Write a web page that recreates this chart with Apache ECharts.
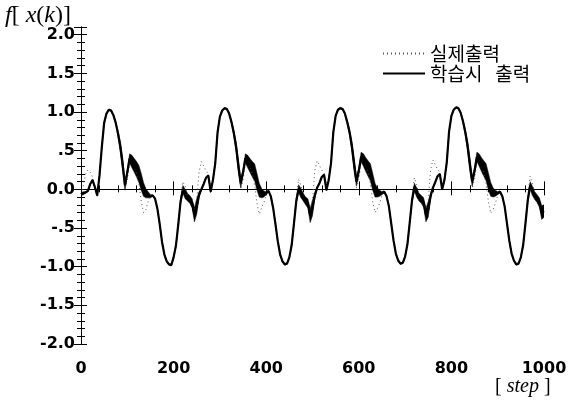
<!DOCTYPE html>
<html><head><meta charset="utf-8">
<script src="https://cdn.jsdelivr.net/npm/echarts@6/dist/echarts.min.js"></script>
<style>html,body{margin:0;padding:0;background:#fff}#c{width:578px;height:402px}</style>
</head><body><div id="c"></div>
<script>
// x axis: step index, every 5 steps from 0 to 1000
const xTickLabels = ['0','200','400','600','800','1000'];
const yTickValues = [-2.0,-1.5,-1.0,-0.5,0.0,0.5,1.0,1.5,2.0];
const seriesNames = ['실제출력','학습시 출력'];

// learned output (학습시 출력), centre of the trace, per 5 steps
const learned1 = [-0.06,-0.05,-0.04,-0.02,0.07,0.12,0.03,-0.08,0.18,0.55,0.86,0.98,1.03,1.02,0.96,0.86,0.72,0.55,0.32,0.05,0.22,0.40,0.36,0.31,0.26,0.20,0.10,0.00,-0.05,-0.07,-0.09,-0.08,-0.12,-0.25,-0.45,-0.68,-0.84,-0.93,-0.97,-0.98,-0.88,-0.73,-0.46,-0.16,0.00,-0.06,-0.10,-0.13,-0.18,-0.33];
const learned2 = [-0.22,-0.07,0.00,0.07,0.15,0.18,-0.03,0.12,0.34,0.74,0.94,1.02,1.05,1.04,0.98,0.87,0.73,0.55,0.30,0.08,0.22,0.40,0.36,0.31,0.26,0.22,0.10,-0.01,-0.05,-0.06,-0.05,-0.02,-0.09,-0.24,-0.45,-0.67,-0.84,-0.93,-0.97,-0.96,-0.88,-0.72,-0.44,-0.15,0.01,-0.05,-0.10,-0.15,-0.18,-0.34];
const learned3 = [-0.24,-0.08,0.02,0.08,0.16,0.19,-0.01,0.12,0.34,0.74,0.95,1.03,1.05,1.04,0.98,0.87,0.74,0.56,0.32,0.10,0.24,0.42,0.38,0.32,0.27,0.22,0.10,-0.01,-0.04,-0.05,-0.05,-0.03,-0.09,-0.22,-0.44,-0.66,-0.83,-0.92,-0.96,-0.95,-0.87,-0.71,-0.43,-0.14,0.03,-0.04,-0.10,-0.13,-0.17,-0.33];
const learned4 = [-0.26,-0.09,0.02,0.09,0.17,0.20,0.00,0.12,0.35,0.75,0.95,1.03,1.06,1.05,0.99,0.88,0.74,0.56,0.32,0.10,0.24,0.42,0.38,0.32,0.27,0.22,0.10,0.00,-0.04,-0.05,-0.05,-0.03,-0.09,-0.22,-0.44,-0.66,-0.83,-0.92,-0.97,-0.96,-0.88,-0.72,-0.44,-0.14,0.05,-0.02,-0.08,-0.12,-0.17,-0.30,-0.28];

// half-width of the oscillation band of the learned output
const spread1 = [0.02,0.02,0.01,0.01,0.01,0.01,0.01,0.01,0.01,0.01,0.01,0.01,0.01,0.01,0.01,0.01,0.04,0.07,0.09,0.06,0.04,0.06,0.08,0.09,0.10,0.11,0.11,0.09,0.06,0.04,0.02,0.01,0.01,0.01,0.01,0.01,0.01,0.01,0.01,0.01,0.01,0.01,0.01,0.03,0.05,0.06,0.05,0.05,0.06,0.09];
const spread2 = [0.10,0.04,0.01,0.01,0.01,0.01,0.01,0.01,0.01,0.01,0.01,0.01,0.01,0.01,0.01,0.02,0.04,0.07,0.09,0.06,0.04,0.06,0.08,0.09,0.10,0.11,0.11,0.09,0.06,0.04,0.02,0.01,0.01,0.01,0.01,0.01,0.01,0.01,0.01,0.01,0.01,0.01,0.01,0.03,0.05,0.06,0.05,0.05,0.06,0.09];
const spread3 = [0.10,0.04,0.01,0.01,0.01,0.01,0.01,0.01,0.01,0.01,0.01,0.01,0.01,0.01,0.01,0.02,0.04,0.07,0.09,0.06,0.04,0.06,0.08,0.09,0.10,0.11,0.11,0.09,0.06,0.04,0.02,0.01,0.01,0.01,0.01,0.01,0.01,0.01,0.01,0.01,0.01,0.01,0.01,0.03,0.05,0.06,0.05,0.05,0.06,0.09];
const spread4 = [0.10,0.04,0.01,0.01,0.01,0.01,0.01,0.01,0.01,0.01,0.01,0.01,0.01,0.01,0.01,0.02,0.04,0.07,0.09,0.06,0.04,0.06,0.08,0.09,0.10,0.11,0.11,0.09,0.06,0.04,0.02,0.01,0.01,0.01,0.01,0.01,0.01,0.01,0.01,0.01,0.01,0.01,0.01,0.03,0.05,0.06,0.05,0.05,0.06,0.09,0.08];

// actual output (실제출력), dotted, per 5 steps
const actual1 = [-0.06,0.05,0.20,0.25,0.22,0.16,0.04,-0.05,0.18,0.55,0.86,0.98,1.03,1.02,0.97,0.87,0.73,0.53,0.30,0.00,0.12,0.35,0.36,0.30,0.20,0.08,-0.15,-0.30,-0.26,-0.16,-0.06,-0.06,-0.12,-0.25,-0.45,-0.68,-0.84,-0.93,-0.97,-0.98,-0.88,-0.73,-0.46,-0.12,0.10,0.04,-0.08,-0.13,-0.18,-0.25];
const actual2 = [-0.12,0.22,0.36,0.30,0.24,0.20,0.05,0.14,0.34,0.74,0.94,1.02,1.05,1.04,0.98,0.88,0.74,0.53,0.28,0.00,0.12,0.34,0.37,0.30,0.20,0.06,-0.18,-0.32,-0.24,-0.17,-0.07,-0.02,-0.09,-0.24,-0.45,-0.67,-0.84,-0.93,-0.97,-0.96,-0.88,-0.72,-0.44,-0.10,0.13,0.05,-0.08,-0.15,-0.18,-0.26];
const actual3 = [-0.14,0.24,0.37,0.31,0.25,0.21,0.07,0.14,0.35,0.74,0.95,1.03,1.05,1.04,0.99,0.88,0.75,0.54,0.30,0.02,0.13,0.35,0.38,0.31,0.21,0.07,-0.16,-0.30,-0.25,-0.18,-0.08,-0.03,-0.09,-0.22,-0.44,-0.66,-0.83,-0.92,-0.96,-0.95,-0.87,-0.71,-0.43,-0.10,0.15,0.06,-0.08,-0.13,-0.17,-0.25];
const actual4 = [-0.14,0.25,0.38,0.32,0.26,0.22,0.08,0.15,0.36,0.75,0.95,1.03,1.06,1.05,0.99,0.89,0.75,0.54,0.30,0.02,0.13,0.35,0.38,0.31,0.21,0.07,-0.16,-0.31,-0.26,-0.18,-0.08,-0.03,-0.09,-0.22,-0.44,-0.66,-0.83,-0.92,-0.97,-0.96,-0.88,-0.72,-0.44,-0.08,0.17,0.08,-0.06,-0.12,-0.17,-0.22,-0.20];

const learned = [...learned1, ...learned2, ...learned3, ...learned4];
const spread = [...spread1, ...spread2, ...spread3, ...spread4];
const actual = [...actual1, ...actual2, ...actual3, ...actual4];
const steps = learned.map((_, i) => i * 5);

const toPairs = arr => arr.map((v, i) => [steps[i], v]);

const labelFont = {fontFamily: 'DejaVu Sans, sans-serif', fontWeight: 'bold', fontSize: 16, color: '#000'};
const axisLine = {show: true, lineStyle: {color: '#000', width: 1}};

const chart = echarts.init(document.getElementById('c'), null, {renderer: 'canvas'});
chart.setOption({
  animation: false,
  backgroundColor: '#fff',
  grid: {left: 81, right: 34, top: 27, bottom: 58, containLabel: false},
  legend: {
    data: seriesNames, orient: 'vertical', left: 377, top: 39,
    itemWidth: 42, itemHeight: 12, itemGap: 1,
    itemStyle: {opacity: 0},
    formatter: name => name.replace(' ', '   '),
    textStyle: {fontFamily: 'Noto Sans CJK KR', fontSize: 19, color: '#000', lineHeight: 19}
  },
  xAxis: [
    {type: 'value', position: 'bottom', min: 0, max: 1000, interval: 200,
     axisLine, splitLine: {show: false},
     axisTick: {inside: true, length: 8, lineStyle: {color: '#000'}},
     minorTick: {show: true, splitNumber: 5, length: 4, lineStyle: {color: '#000'}},
     axisLabel: Object.assign({margin: 17, formatter: v => xTickLabels[Math.round(v / 200)]}, labelFont)},
    {type: 'value', position: 'top', min: 0, max: 1000, interval: 200,
     axisLine, splitLine: {show: false},
     axisTick: {inside: true, length: 6, lineStyle: {color: '#000'}},
     minorTick: {show: true, splitNumber: 5, length: 3, lineStyle: {color: '#000'}},
     axisLabel: {show: false}}
  ],
  yAxis: [
    {type: 'value', position: 'left', min: -2, max: 2.1, interval: 0.5,
     axisLine, splitLine: {show: false},
     axisTick: {inside: false, length: 5, lineStyle: {color: '#000'}},
     minorTick: {show: false},
     axisLabel: Object.assign({margin: 6, formatter: v => {
        if (v > 2.05) return '';
        const t = yTickValues.find(y => Math.abs(y - v) < 1e-6);
        if (t === undefined) return '';
        return t.toFixed(1).replace('0.5', '.5');
     }}, labelFont)},
    {type: 'value', position: 'right', min: -2, max: 2.1, interval: 0.5,
     axisLine, splitLine: {show: false},
     axisTick: {inside: true, length: 7, lineStyle: {color: '#000'}},
     minorTick: {show: true, splitNumber: 5, length: 4, lineStyle: {color: '#000'}},
     axisLabel: {show: false}},
    {type: 'value', position: 'left', min: -2, max: 2.1, interval: 0.5,
     axisLine: {show: false}, splitLine: {show: false},
     axisTick: {inside: true, length: 6, lineStyle: {color: '#000'}},
     minorTick: {show: true, splitNumber: 5, length: 4, lineStyle: {color: '#000'}},
     axisLabel: {show: false}}
  ],
  graphic: [
    {type: 'text', left: 5, top: 4, style: {
      text: '{i|f}{n|[ }{i|x}{n|(}{i|k}{n|)]}',
      rich: {
        i: {fontFamily: 'Liberation Serif, DejaVu Serif, serif', fontStyle: 'italic', fontSize: 24, fill: '#000'},
        n: {fontFamily: 'Liberation Serif, DejaVu Serif, serif', fontSize: 24, fill: '#000'}
      }}},
    {type: 'text', left: 495, top: 377, style: {
      text: '{n|[ }{i|step}{n| ]}',
      rich: {
        i: {fontFamily: 'Liberation Serif, DejaVu Serif, serif', fontStyle: 'italic', fontSize: 20, fill: '#000'},
        n: {fontFamily: 'Liberation Serif, DejaVu Serif, serif', fontSize: 20, fill: '#000'}
      }}}
  ],
  series: [
    {name: 'band', type: 'custom', data: [[0, 0]], silent: true, z: 2, clip: true,
     renderItem: (params, api) => {
       const up = learned.map((v, i) => api.coord([steps[i], v + spread[i]]));
       const lo = learned.map((v, i) => api.coord([steps[i], v - spread[i]])).reverse();
       return {type: 'polygon', shape: {points: up.concat(lo)}, style: {fill: '#000', stroke: '#000', lineWidth: 0.5}};
     }},
    {name: seriesNames[0], type: 'line', data: toPairs(actual), symbol: 'none',
     lineStyle: {color: '#555', width: 1, type: [1, 3]}, itemStyle: {color: '#555'}, z: 3},
    {name: seriesNames[1], type: 'line', data: toPairs(learned), symbol: 'none',
     lineStyle: {color: '#000', width: 2.2}, itemStyle: {color: '#000'}, z: 4}
  ]
});
</script>
</body></html>
